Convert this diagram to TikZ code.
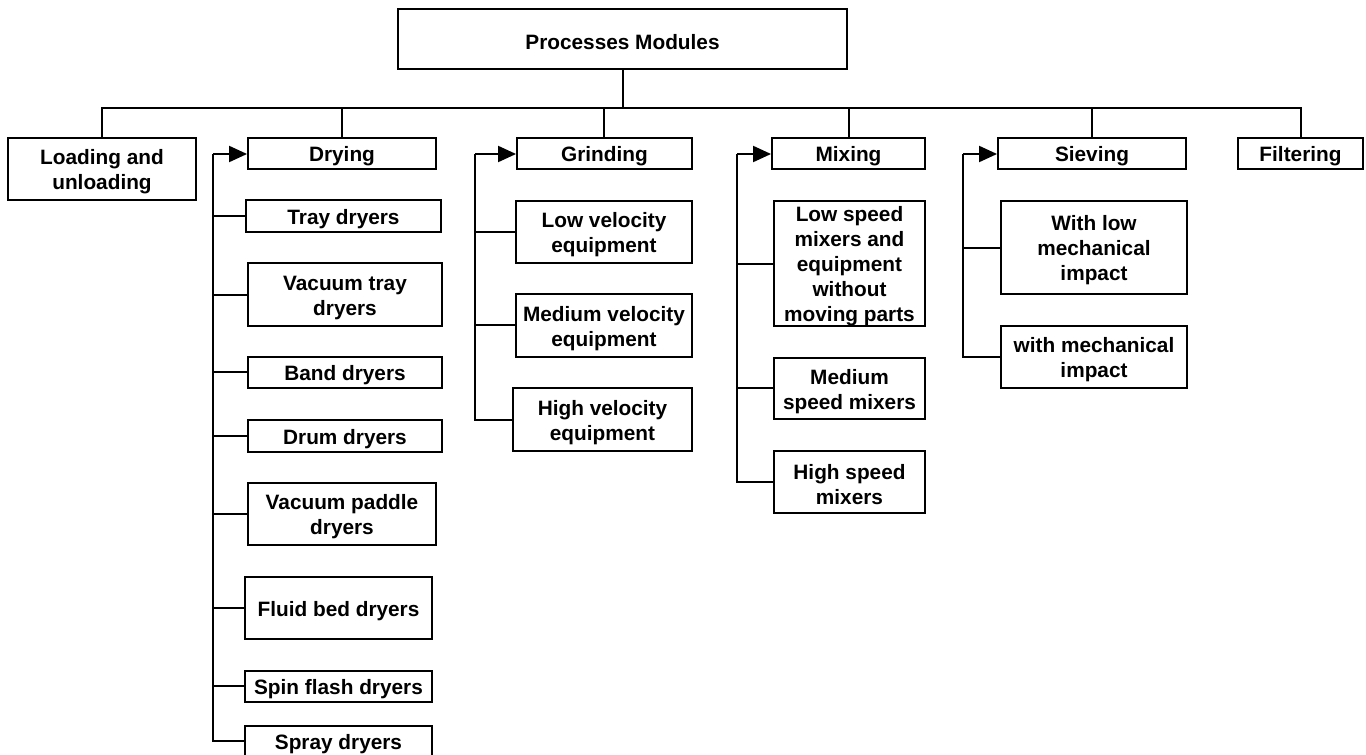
\documentclass[tikz,border=0pt]{standalone}
\usepackage{fontspec}
\setmainfont{Liberation Sans}
\usetikzlibrary{arrows.meta}
% raises the first line so the caps sit in the middle of each box
\newcommand\capfix{\rule{0pt}{21pt}}
\begin{document}
\begin{tikzpicture}[x=1pt,y=-1pt,
  box/.style={draw=black,line width=1.9pt,fill=white,inner sep=0pt,align=center,
    font=\fontsize{20.8}{25}\selectfont\bfseries},
  link/.style={draw=black,line width=1.8pt},
  rail/.style={draw=black,line width=2pt},
  feed/.style={draw=black,line width=2pt,-{Triangle[length=18pt,width=16pt]}}]
\useasboundingbox[fill=white] (0,0) rectangle (1366,755);

% root and first level
\node[box,minimum width=449pt,minimum height=60pt] (root) at (622.5,39) {\capfix Processes Modules};
\node[box,minimum width=188pt,minimum height=62pt] (load) at (102,169) {\capfix Loading and\\unloading};
\node[box,minimum width=188pt,minimum height=31pt] (dry) at (342,153.5) {\capfix Drying};
\node[box,minimum width=175pt,minimum height=31pt] (grind) at (604.5,153.5) {\capfix Grinding};
\node[box,minimum width=153pt,minimum height=31pt] (mix) at (848.5,153.5) {\capfix Mixing};
\node[box,minimum width=188pt,minimum height=31pt] (sieve) at (1092,153.5) {\capfix Sieving};
\node[box,minimum width=125pt,minimum height=31pt] (filter) at (1300.5,153.5) {\capfix Filtering};

% drying equipment
\node[box,minimum width=195pt,minimum height=32pt] (d1) at (343.5,216) {\capfix Tray dryers};
\node[box,minimum width=194pt,minimum height=63pt] (d2) at (345,294.5) {\capfix Vacuum tray\\dryers};
\node[box,minimum width=194pt,minimum height=31pt] (d3) at (345,372.5) {\capfix Band dryers};
\node[box,minimum width=194pt,minimum height=32pt] (d4) at (345,436) {\capfix Drum dryers};
\node[box,minimum width=188pt,minimum height=62pt] (d5) at (342,514) {\capfix Vacuum paddle\\dryers};
\node[box,minimum width=187pt,minimum height=62pt] (d6) at (338.5,608) {\capfix Fluid bed dryers};
\node[box,minimum width=187pt,minimum height=31pt] (d7) at (338.5,686.5) {\capfix Spin flash dryers};
\node[box,minimum width=187pt,minimum height=31pt] (d8) at (338.5,741.5) {\capfix Spray dryers};

% grinding equipment
\node[box,minimum width=176pt,minimum height=62pt] (g1) at (604,232) {\capfix Low velocity\\equipment};
\node[box,minimum width=176pt,minimum height=63pt] (g2) at (604,325.5) {\capfix Medium velocity\\equipment};
\node[box,minimum width=179pt,minimum height=63pt] (g3) at (602.5,419.5) {\capfix High velocity\\equipment};

% mixing equipment
\node[box,minimum width=151pt,minimum height=125pt] (m1) at (849.5,263.5) {\capfix Low speed\\mixers and\\equipment\\without\\moving parts};
\node[box,minimum width=151pt,minimum height=61pt] (m2) at (849.5,388.5) {\capfix Medium\\speed mixers};
\node[box,minimum width=151pt,minimum height=62pt] (m3) at (849.5,482) {\capfix High speed\\mixers};

% sieving equipment
\node[box,minimum width=186pt,minimum height=93pt] (s1) at (1094,247.5) {\capfix With low\\mechanical\\impact};
\node[box,minimum width=186pt,minimum height=62pt] (s2) at (1094,357) {\capfix with mechanical\\impact};

% bus under the root (connectors snapped to whole points)
\coordinate (bus) at (623,108);
\draw[rail] ([xshift=0.5pt]root.south) -- (bus);
\foreach \n/\dx in {load/0,dry/0,grind/-0.5,mix/0.5,sieve/0,filter/0.5}
  \draw[link] ([xshift=\dx pt]\n.north) |- (bus);

% side rails feeding each group
\coordinate (drail) at (213,154);
\coordinate (grail) at (475,154);
\coordinate (mrail) at (737,154);
\coordinate (srail) at (963,154);

\draw[feed] (drail) -- (drail -| dry.west);
\draw[feed] (grail) -- (grail -| grind.west);
\draw[feed] (mrail) -- (mrail -| mix.west);
\draw[feed] (srail) -- (srail -| sieve.west);

\draw[rail] ([yshift=0.5pt]d8.west) -| (drail);
\foreach \n/\dy in {d1/0,d2/-0.5,d3/0.5,d4/0,d5/0,d6/0,d7/0.5}
  \draw[link] ([yshift=\dy pt]\n.west) -| (drail);

\draw[rail] ([yshift=-0.5pt]g3.west) -| (grail);
\foreach \n/\dy in {g1/0,g2/0.5}
  \draw[link] ([yshift=\dy pt]\n.west) -| (grail);

\draw[rail] (m3.west) -| (mrail);
\foreach \n/\dy in {m1/-0.5,m2/0.5}
  \draw[link] ([yshift=\dy pt]\n.west) -| (mrail);

\draw[rail] (s2.west) -| (srail);
\draw[link] ([yshift=-0.5pt]s1.west) -| (srail);
\end{tikzpicture}
\end{document}
